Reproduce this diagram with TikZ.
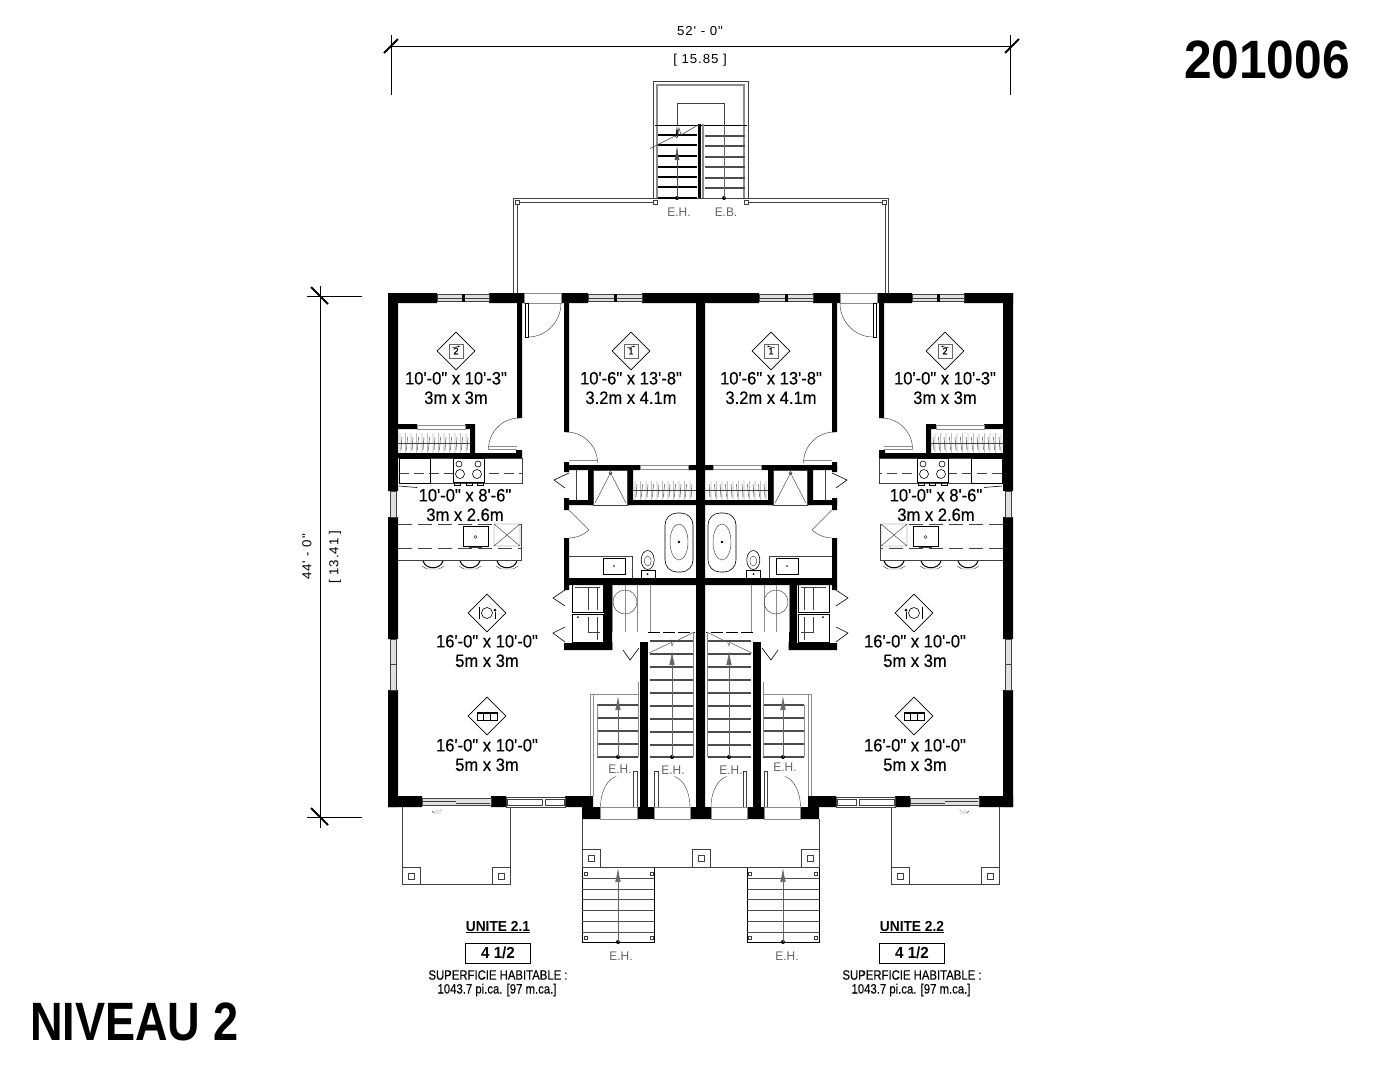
\documentclass[tikz,border=0pt]{standalone}
\usepackage{fontspec}
\usetikzlibrary{arrows.meta,shapes.geometric,calc}
\newfontfamily\planfont[FakeStretch=0.92,FakeBold=0.35]{Liberation Sans}
\newfontfamily\plannote[FakeStretch=0.84,FakeBold=0.2]{Liberation Sans}
\newfontfamily\planwide[FakeStretch=1.02,LetterSpace=7]{Liberation Sans}
\newfontfamily\planthin[FakeStretch=0.95]{Liberation Sans}
\newfontfamily\plantitle[FakeStretch=0.92]{Liberation Sans Bold}
\newfontfamily\planlevel[FakeStretch=0.835]{Liberation Sans Bold}
\newfontfamily\planbold[FakeStretch=0.95]{Liberation Sans Bold}
\tikzset{
  wall/.style={fill=black,draw=none},
  plan/.style={draw=black,line width=.6pt},
  fine/.style={draw=black!75,line width=.45pt},
  soft/.style={draw=black!45,line width=.8pt},
  tread/.style={draw=black!70,line width=1.1pt},
  riser/.style={draw=black!60,line width=.6pt,-{Latex[length=14pt,width=5.5pt]}},
  roomtext/.style={inner sep=0pt,align=center,font=\planfont\fontsize{18}{19.5}\selectfont},
  smalltext/.style={inner sep=0pt,font=\plannote\fontsize{13.5}{15}\selectfont},
  dimtext/.style={inner sep=0pt,font=\planwide\fontsize{13}{15}\selectfont},
  leveltext/.style={inner sep=0pt,text=black!60,font=\planthin\fontsize{12.5}{14}\selectfont},
  roomdiamond/.style={diamond,draw=black,line width=.6pt,aspect=1,minimum width=38pt,minimum height=38pt,inner sep=0pt,font=\planfont\fontsize{10}{10}\selectfont},
  dimline/.style={draw=black,line width=.7pt},
  dimslash/.style={draw=black,line width=1.8pt},
}
% one floor plan, drawn twice (second copy is mirrored)
\newcommand{\drawunit}{%
  % outer walls
  \fill[wall] (388,293) rectangle (437,303) (489,293) rectangle (524,303)
    (561,293) rectangle (588,303) (642,293) rectangle (701,303);
  \fill[wall] (388,293) rectangle (398,491) (388,517) rectangle (398,639) (388,690) rectangle (398,807);
  \fill[wall] (388,796) rectangle (422,807) (491,796) rectangle (506,807) (565,796) rectangle (593,807);
  \fill[wall] (582,807) rectangle (600.5,819) (637,807) rectangle (654,819);
  \fill[wall] (690,807) rectangle (701,819) (696,293) rectangle (701,807);
  % inner walls
  \fill[wall] (517,303) rectangle (522,418) (398,453) rectangle (522,458) (516,450) rectangle (522,458);
  \fill[wall] (398,424) rectangle (417,429) (465,424) rectangle (475,429) (470,424) rectangle (475,453);
  \fill[wall] (564,303) rectangle (569,432) (564,462) rectangle (569,472) (564,498) rectangle (569,510);
  \fill[wall] (564,465) rectangle (640,470) (688,465) rectangle (696,470);
  \fill[wall] (564,500) rectangle (593,505) (628,500) rectangle (696,505);
  \fill[wall] (588,465) rectangle (593,505) (628,465) rectangle (633,505);
  \fill[wall] (564,538) rectangle (569,585) (564,578) rectangle (696,585);
  \fill[wall] (604,578) rectangle (612,650) (564,643) rectangle (612,650) (564,585) rectangle (569,590);
  \fill[wall] (640,642) rectangle (648,807);
  % windows
  \foreach \xa/\xb in {437/489,588/642}
    {\draw[fine,fill=black!12] (\xa,294.5) rectangle (\xb,301.5);
     \draw[fine] (\xa,298) -- (\xb,298);
     \fill[wall] ({(\xa+\xb)/2-1.5},294) rectangle ({(\xa+\xb)/2+1.5},302);}
  \draw[fine,fill=black!12] (390,491) rectangle (396,517);
  \draw[fine,fill=black!12] (390,639) rectangle (396,664) (390,664) rectangle (396,690);
  \draw[fine,fill=black!12] (422,798) rectangle (491,805);
  \draw[fine] (423,801) -- (456,801) (456,803) -- (490,803);
  \draw[fine] (506,797) rectangle (565,807) (507,799) rectangle (542,805) (545,799) rectangle (564,805);
  \draw[fine] (434,811) -- (441,811) -- (441,809) (441,813) -- (434,813) -- (432,811);
  % doors
  \draw[soft] (524,293.5) rectangle (561,303);
  \draw[plan] (525,303) rectangle (528,337);
  \draw[fine] (528,337) arc[start angle=90,end angle=1,x radius=33,y radius=34];
  \draw[fine] (519.5,418) arc[start angle=-90,end angle=-180,radius=31];
  \draw[soft] (488,446) -- (517,446) (488,449) -- (517,449);
  \draw[fine] (566.5,432) arc[start angle=-90,end angle=0,radius=31];
  \draw[soft] (569,460) -- (597,460);
  \draw[plan] (569,473) -- (554,480) -- (565,488);
  \draw[soft] (569,510) -- (589,530);
  \draw[fine] (589,530) .. controls (582,536) and (575,538) .. (569,538);
  \draw[plan] (565,590) -- (553,598) -- (565,606) (565,627) -- (553,633) -- (565,642);
  \draw[plan] (612,642) -- (612,650) (623,650) -- (630,660) -- (639,648);
  % bedroom closet
  \draw[soft] (417,425) rectangle (465,429);
  \draw[fine] (398,443) -- (470,443);
  \foreach \xa in {400,405.5,...,470}
    {\draw[fine] (\xa,433) -- (\xa,453) (\xa+2,437) -- (\xa+1,450);}
  % master closet and shower
  \draw[soft] (640,465.5) rectangle (688,469.5);
  \draw[fine] (633,490) -- (696,490);
  \foreach \xa in {635,640.5,...,695}
    {\draw[fine] (\xa,481) -- (\xa,500) (\xa+2,484) -- (\xa+1,497);}
  \draw[fine] (576,470) -- (576,500);
  \draw[fine] (593.5,470) rectangle (627.5,505);
  \draw[fine] (595,503) -- (610.5,473) -- (626,503);
  \draw[fine] (610.5,473) circle[radius=1.5];
  % kitchen counter
  \draw[fine] (399,458) rectangle (522,483);
  \draw[plan] (399,458) rectangle (430,483);
  \draw[fine,dashed,dash pattern=on 10pt off 5pt] (399,473) -- (522,473);
  \draw[plan,fill=white] (453,458) rectangle (484,482);
  \foreach \xa/\ya/\rr in {459/464/3,478/464/3,460/474/4.5,477/474/4.5}
    {\draw[plan] (\xa,\ya) circle[radius=\rr];}
  \draw[plan] (454,482) rectangle (460,485) (466,482) rectangle (472,485) (477,482) rectangle (483,485);
  \draw[plan] (399,486) -- (417,487.5);
  % island
  \draw[fine] (398,560) -- (521,560) -- (521,524);
  \draw[fine,dash pattern=on 14pt off 6pt] (398,524) -- (521,524) (398,548) -- (521,548);
  \draw[plan,fill=white] (463,526) rectangle (488,546);
  \draw[fine] (469,547) -- (482,547);
  \draw[fine] (475.5,537) circle[radius=1.5];
  \draw[fine,fill=white] (494,524) rectangle (520,546) (494,524) -- (520,546) (520,524) -- (494,546);
  \foreach \xa in {433,470,507}
    {\draw[plan,line width=1pt] (\xa-10,561) .. controls (\xa-7,570) and (\xa+7,570) .. (\xa+10,561);
     \draw[fine] (\xa-11,566) -- (\xa-6,569) -- (\xa+6,569) -- (\xa+11,566);}
  % bathroom
  \draw[plan,rounded corners=12pt] (665,513) rectangle (693,572);
  \draw[fine] (679,542) ellipse[x radius=9,y radius=18];
  \fill (679,542) circle[radius=1.3];
  \draw[plan] (647.7,560) ellipse[x radius=6.5,y radius=9.5];
  \draw[fine] (647.7,561) ellipse[x radius=3.5,y radius=5];
  \draw[plan] (641,570) rectangle (655,578);
  \fill (647.5,574) circle[radius=1];
  \draw[fine] (569,556) -- (632,556) -- (632,578);
  \draw[plan,fill=white] (603,558) rectangle (625,574);
  \fill (614,566) circle[radius=.9];
  % washer and dryer
  \draw[plan] (572,584) rectangle (603,612) (572,614) rectangle (603,642);
  \draw[fine] (575,587) -- (600,587) (588,587) -- (588,610) (597,587) -- (597,610);
  \draw[fine] (588,617) -- (588,632) -- (600,632) (597,617) -- (597,640);
  \fill (578,617) circle[radius=1];
  % upper landing
  \foreach \xa in {612,625,637,650}
    {\draw[soft,line width=.6pt] (\xa,585) -- (\xa,632);}
  \draw[fine,fill=none] (625,602) circle[radius=12];
  \draw[plan,dash pattern=on 12pt off 3pt] (648,632) -- (695,632);
  \draw[fine] (649,653) -- (670,643) -- (671,640) -- (672,646) -- (674,640) -- (676,641) -- (694,632);
  % stairs to the upper level
  \foreach \ya in {641,654,667,680,693,706,719,732,745,757}
    {\draw[tread] (650,\ya) -- (693,\ya);}
  \draw[soft] (693.5,632) -- (693.5,757);
  \fill (672,757) circle[radius=2];
  \draw[riser] (672,757) -- (672,651);
  % entry stairs
  \foreach \ya in {705,718,731,744,757}
    {\draw[tread] (597,\ya) -- (638,\ya);}
  \draw[soft,line width=.6pt] (597,705) -- (597,757);
  \draw[soft] (590,694) -- (590,796) (593,694) -- (593,796) (590,694) -- (638,694) (638,682) -- (638,757);
  \fill (618,757) circle[radius=2];
  \draw[riser] (618,757) -- (618,696);
  % entry doors
  \draw[soft] (600.5,807) rectangle (637,819) (654,807) rectangle (690,819);
  \draw[fine] (600.5,807) arc[start angle=180,end angle=260,x radius=19,y radius=31];
  \draw[fine] (690,807) arc[start angle=0,end angle=-80,x radius=19,y radius=31];
  \draw[fine] (633,771) -- (637,771) -- (637,807) (633.5,771) -- (633.5,807);
  \draw[fine] (658,771) -- (654.5,771) -- (654.5,807) (658,771) -- (658,807);
  % porch
  \draw[fine,line width=.7pt] (402,807) -- (402,884) -- (510,884) -- (510,807);
  \foreach \xa in {402,492}
    {\draw[fine,line width=.7pt] (\xa,867) rectangle (\xa+18,884);
     \draw[fine] (\xa+6,873) rectangle (\xa+12,879);}
  % front stairs
  \draw[plan,line width=1pt] (582,867) -- (582,942) -- (654,942) -- (654,867);
  \foreach \ya in {878,889,899.5,910,921,932}
    {\draw[tread,line width=.9pt] (582,\ya) -- (654,\ya);}
  \foreach \xa in {584,650}
    {\draw[fine] (\xa,872) rectangle (\xa+3,875) (\xa,936) rectangle (\xa+3,939);}
  \fill (618,942) circle[radius=2];
  \draw[riser] (618,942) -- (618,868);
}
\newcommand{\bedicon}[4]{%
  \node[roomdiamond] (#1) at (#2) {\raisebox{-1.5pt}{#3}};
  \draw[black!60,line width=1pt] ([shift={(-7,-7)}]#1.center) rectangle ([shift={(7,7)}]#1.center);
  \draw[black,line width=.4pt,-{Latex[length=2pt,width=2pt]}] ([shift={(#4*-4,-3)}]#1.center) -- ([shift={(#4*4,-5)}]#1.center);
}
\newcommand{\diningicon}[3]{%
  \node[roomdiamond] (#1) at (#2) {};
  \begin{scope}[shift={(#2)},xscale=#3]
    \draw[plan] (0,0) circle[radius=5.5];
    \draw[plan] (-8,-6) -- (-8,6) (8,-1) -- (8,6);
    \fill (8,-3) circle[radius=1.5];
  \end{scope}
}
\newcommand{\sofaicon}[2]{%
  \node[roomdiamond] (#1) at (#2) {};
  \begin{scope}[shift={(#2)}]
    \draw[plan] (-10,-4) rectangle (10,4);
    \draw[plan] (-3.5,-4) -- (-3.5,4) (3.5,-4) -- (3.5,4) (-10,-2.5) -- (10,-2.5);
  \end{scope}
}
\begin{document}
\begin{tikzpicture}[x=1pt,y=-1pt]
  \useasboundingbox (0,0) rectangle (1398,1080);

  % titles
  \node[inner sep=0pt,anchor=east,font=\plantitle\fontsize{54}{60}\selectfont] (projnum) at (1350,60) {201006};
  \node[inner sep=0pt,anchor=west,font=\planlevel\fontsize{54}{60}\selectfont] (level) at (30,1022) {NIVEAU 2};

  % dimensions
  \coordinate (topa) at (391,46);
  \coordinate (topb) at (1012,46);
  \coordinate (lefta) at (320,296);
  \coordinate (leftb) at (320,817);
  \draw[dimline] (topa) -- (topb);
  \draw[dimline] (391,35) -- (391,95) (1010,35) -- (1010,95);
  \draw[dimslash] (384,53) -- (398,39) (1005,53) -- (1019,39);
  \draw[dimline] (lefta) -- (leftb);
  \draw[dimline] (320,286) -- (lefta) (leftb) -- (320,828);
  \draw[dimline] (307,296) -- (362,296) (307,817) -- (362,817);
  \draw[dimslash] (311,287) -- (328,304) (311,808) -- (328,825);
  \node[dimtext] (dimw) at (700,31) {52' - 0"};
  \node[dimtext] (dimwm) at (700,60) {[ 15.85 ]};
  \node[dimtext,rotate=90] (dimh) at (307,557) {44' - 0"};
  \node[dimtext,rotate=90] (dimhm) at (335,557) {[ 13.41 ]};

  % both units
  \begin{scope}
    \drawunit
  \end{scope}
  \begin{scope}[shift={(1401,0)},xscale=-1]
    \drawunit
  \end{scope}

  % rear deck
  \draw[fine,line width=.7pt] (513,293) -- (513,198) -- (888,198) -- (888,293);
  \draw[fine,line width=.7pt] (517,293) -- (517,202) -- (655,202) (746,202) -- (885,202) -- (885,293);
  \foreach \xa in {517,655,746,884}
    {\draw[fine,fill=white] (\xa-2,200) rectangle (\xa+2,204);}

  % rear stairs
  \draw[fine] (653,198) -- (653,81) -- (748,81) -- (748,198);
  \draw[soft,line width=1.2pt] (657,198) -- (657,85) -- (744,85) -- (744,198);
  \draw[fine] (677,125) -- (677,103) -- (724,103) -- (724,125);
  \draw[plan] (655,125) -- (747,125);
  \fill (698,124) rectangle (701,198);
  \draw[soft,line width=1.5pt] (703,124) -- (703,198);
  \foreach \ya in {135,145,156,167,177,187,198}
    {\draw[tread,draw=black] (658,\ya) -- (697,\ya);}
  \foreach \ya in {136,146,157,167,178,188}
    {\draw[tread] (705,\ya) -- (745,\ya);}
  \fill (677,198) circle[radius=2] (724,198) circle[radius=2];
  \draw[riser,draw=black!70,-{Latex[length=14pt,width=5pt]}] (677,198) -- (677,146);
  \draw[black!60,line width=.6pt] (724,125) -- (724,198);
  \draw[plan,-{Latex[length=11pt,width=3pt]}] (677,137) -- (677,125);
  \draw[fine,line width=.6pt] (650,148.5) -- (675,136) -- (677,138) -- (679,128) -- (681,135) -- (698,125);

  % front deck
  \draw[fine,line width=.7pt] (582,819) -- (582,867) -- (819,867) -- (819,819);
  \foreach \xa in {582,692,801}
    {\draw[fine,line width=.7pt] (\xa,849) rectangle (\xa+18,867);
     \draw[fine] (\xa+6,855) rectangle (\xa+12,861);}

  % level marks
  \node[leveltext] (ehrear) at (679,212) {E.H.};
  \node[leveltext] (ebrear) at (726,212) {E.B.};
  \node[leveltext] (eha) at (620,769) {E.H.};
  \node[leveltext] (ehb) at (673,770) {E.H.};
  \node[leveltext] (ehc) at (731,770) {E.H.};
  \node[leveltext] (ehd) at (785,767) {E.H.};
  \node[leveltext] (ehe) at (621,956) {E.H.};
  \node[leveltext] (ehf) at (787,956) {E.H.};

  % room icons
  \bedicon{iconbeda}{456,351}{2}{1}
  \bedicon{iconbedb}{631,351}{1}{1}
  \bedicon{iconbedc}{771,351}{1}{-1}
  \bedicon{iconbedd}{945,351}{2}{-1}
  \diningicon{icondina}{487,613}{1}
  \diningicon{icondinb}{914,613}{-1}
  \sofaicon{iconlivea}{487,716}
  \sofaicon{iconliveb}{914,716}

  % room sizes
  \begin{scope}[every node/.style={roomtext}]
    \node (sizebeda) at (456,388) {10'-0" x 10'-3"\\3m x 3m};
    \node (sizebedb) at (631,388) {10'-6" x 13'-8"\\3.2m x 4.1m};
    \node (sizebedc) at (771,388) {10'-6" x 13'-8"\\3.2m x 4.1m};
    \node (sizebedd) at (945,388) {10'-0" x 10'-3"\\3m x 3m};
    \node (sizekita) at (465,505) {10'-0" x 8'-6"\\3m x 2.6m};
    \node (sizekitb) at (936,505) {10'-0" x 8'-6"\\3m x 2.6m};
    \node (sizedina) at (487,651) {16'-0" x 10'-0"\\5m x 3m};
    \node (sizedinb) at (915,651) {16'-0" x 10'-0"\\5m x 3m};
    \node (sizelivea) at (487,755) {16'-0" x 10'-0"\\5m x 3m};
    \node (sizeliveb) at (915,755) {16'-0" x 10'-0"\\5m x 3m};
  \end{scope}

  % unit titles
  \foreach \nm/\xa/\uu in {a/498/2.1,b/912/2.2}
    {\node[smalltext,font=\planbold\fontsize{14.5}{15}\selectfont] (unit\nm) at (\xa,927) {\underline{UNITE \uu}};
     \node[draw=black,line width=.7pt,minimum width=65pt,minimum height=20pt,inner sep=0pt,font=\planbold\fontsize{16}{16}\selectfont] (type\nm) at (\xa,953) {4 1/2};
     \node[smalltext] (area\nm) at (\xa,975) {SUPERFICIE HABITABLE :};
     \node[smalltext] (sqft\nm) at (\xa-1,990) {1043.7 pi.ca. [97 m.ca.]};}
\end{tikzpicture}
\end{document}
